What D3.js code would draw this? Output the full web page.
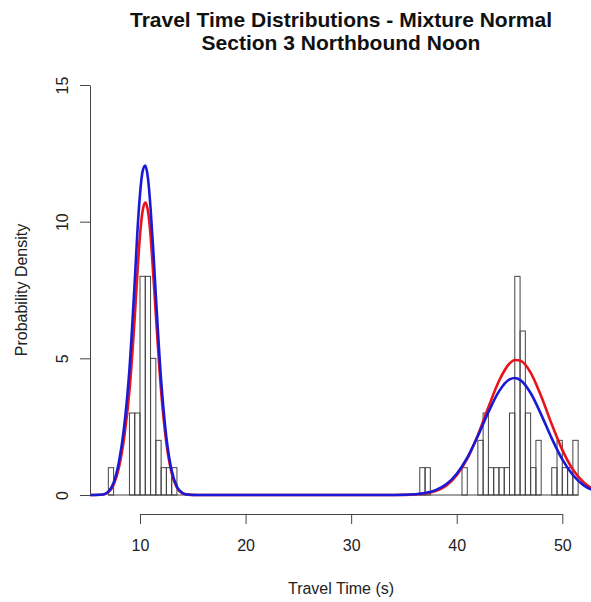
<html>
<script src="https://cdn.jsdelivr.net/npm/d3@7"></script>
<style>
body { margin: 0; background: #fff; font-family: Arial, "Liberation Sans", sans-serif; }
</style>
<body>
<svg id="chart" width="591" height="602"></svg>
<script>
// histogram bins (left edge, bin width 0.5) and their heights
const binLeft   = [7.0, 9.0, 9.5, 10.0, 10.5, 11.0, 11.5, 12.0, 12.5, 13.0,
                   36.5, 37.0, 40.5, 42.0, 42.5, 43.0, 43.5, 44.0, 44.5, 45.0,
                   45.5, 46.0, 46.5, 47.0, 47.5, 49.0, 49.5, 50.0, 50.5, 51.0];
const binHeight = [1, 3, 3, 8, 8, 5, 2, 1, 1, 1,
                   1, 1, 1, 2, 3, 1, 1, 1, 1, 3,
                   8, 6, 3, 1, 2, 1, 2, 1, 1, 2];
const binWidth = 0.5;
const histRange = [7.0, 51.5];

// fitted density curves, sampled along the picture
const curveX = [5.25, 6.5, 7.0, 7.5, 8.0, 8.5, 9.0, 9.5, 9.75, 10.0, 10.25, 10.5, 10.75, 11.0, 11.25, 11.5,
                12.0, 12.5, 13.0, 13.5, 14.0, 14.5, 15.5, 33.0, 34.0, 35.0, 36.0, 37.0, 38.0, 39.0, 40.0,
                41.0, 42.0, 43.0, 44.0, 45.0, 45.5, 46.0, 47.0, 48.0, 49.0, 50.0, 51.0, 52.0, 53.0, 54.0];
const redY  = [0, 0.02, 0.1, 0.38, 1.0, 2.1, 3.8, 6.5, 8.1, 9.5, 10.4, 10.7, 10.4, 9.5, 8.1, 6.6,
               3.8, 1.9, 0.8, 0.27, 0.07, 0.015, 0, 0, 0.001, 0.005, 0.018, 0.055, 0.145, 0.34, 0.72,
               1.33, 2.19, 3.21, 4.17, 4.81, 4.94, 4.92, 4.48, 3.61, 2.59, 1.65, 0.93, 0.47, 0.21, 0.08];
const blueY = [0, 0.02, 0.12, 0.45, 1.2, 2.5, 4.6, 7.8, 9.6, 11.0, 11.85, 12.05, 11.6, 10.5, 9.0, 7.3,
               4.2, 2.1, 0.9, 0.3, 0.08, 0.02, 0, 0, 0.002, 0.008, 0.025, 0.07, 0.18, 0.39, 0.78,
               1.37, 2.16, 3.03, 3.79, 4.23, 4.28, 4.21, 3.73, 2.94, 2.07, 1.30, 0.73, 0.36, 0.16, 0.06];

const xTicks = [10, 20, 30, 40, 50];
const yTicks = [0, 5, 10, 15];

const svg = d3.select("svg#chart");

let x = d3.scaleLinear().domain([10, 50]).range([140, 562.3]);
let y = d3.scaleLinear().domain([0, 15]).range([495, 85]);

svg.append("defs").append("clipPath").attr("id", "plotclip")
    .append("rect").attr("x", 90).attr("y", 68).attr("width", 502).attr("height", 446);

// histogram
let hist = svg.append("g").attr("clip-path", "url(#plotclip)");

hist.append("line")
    .attr("x1", x(histRange[0])).attr("x2", x(histRange[1]))
    .attr("y1", y(0)).attr("y2", y(0))
    .attr("stroke", "#444").attr("stroke-width", 1);

hist.selectAll(".bar")
    .data(binLeft.map((b, i) => ({left: b, h: binHeight[i]})))
    .enter().append("rect")
    .attr("class", "bar")
    .attr("x", d => x(d.left))
    .attr("width", d => x(d.left + binWidth) - x(d.left))
    .attr("y", d => y(d.h))
    .attr("height", d => y(0) - y(d.h))
    .attr("fill", "none")
    .attr("stroke", "#444")
    .attr("stroke-width", 1);

// density curves
let line = d3.line().x(d => x(d[0])).y(d => y(d[1])).curve(d3.curveMonotoneX);

hist.append("path")
    .datum(curveX.map((v, i) => [v, redY[i]]))
    .attr("d", line)
    .attr("fill", "none").attr("stroke", "#e8141c").attr("stroke-width", 2.6);

hist.append("path")
    .datum(curveX.map((v, i) => [v, blueY[i]]))
    .attr("d", line)
    .attr("fill", "none").attr("stroke", "#1a1ad6").attr("stroke-width", 2.6);

// axes
const xAxis = d3.axisBottom(x).tickValues(xTicks).tickSize(10).tickSizeOuter(0).tickPadding(16);
let gx = svg.append("g").attr("transform", "translate(0,514)").call(xAxis);
gx.selectAll("path, line").attr("stroke", "#444");
gx.selectAll("text").attr("fill", "#222").style("font-size", "16px").style("font-family", "Arial, 'Liberation Sans', sans-serif");

const yAxis = d3.axisLeft(y).tickValues(yTicks).tickSize(10).tickSizeOuter(0);
let gy = svg.append("g").attr("transform", "translate(90,0)").call(yAxis);
gy.selectAll("path, line").attr("stroke", "#444");
gy.selectAll("text")
    .attr("x", 0).attr("dy", 0)
    .attr("text-anchor", "middle")
    .attr("transform", "translate(-22,0) rotate(-90)")
    .attr("fill", "#222").style("font-size", "16px").style("font-family", "Arial, 'Liberation Sans', sans-serif");

// titles
svg.append("text").attr("x", 341).attr("y", 27).attr("text-anchor", "middle")
    .style("font-size", "21px").style("font-weight", "bold").attr("fill", "#111")
    .text("Travel Time Distributions - Mixture Normal");
svg.append("text").attr("x", 341).attr("y", 50).attr("text-anchor", "middle")
    .style("font-size", "21px").style("font-weight", "bold").attr("fill", "#111")
    .text("Section 3 Northbound Noon");

svg.append("text").attr("x", 341).attr("y", 594).attr("text-anchor", "middle")
    .style("font-size", "16px").attr("fill", "#222")
    .text("Travel Time (s)");

svg.append("text").attr("transform", "translate(27,290) rotate(-90)").attr("text-anchor", "middle")
    .style("font-size", "16px").attr("fill", "#222")
    .text("Probability Density");
</script>
</body>
</html>
